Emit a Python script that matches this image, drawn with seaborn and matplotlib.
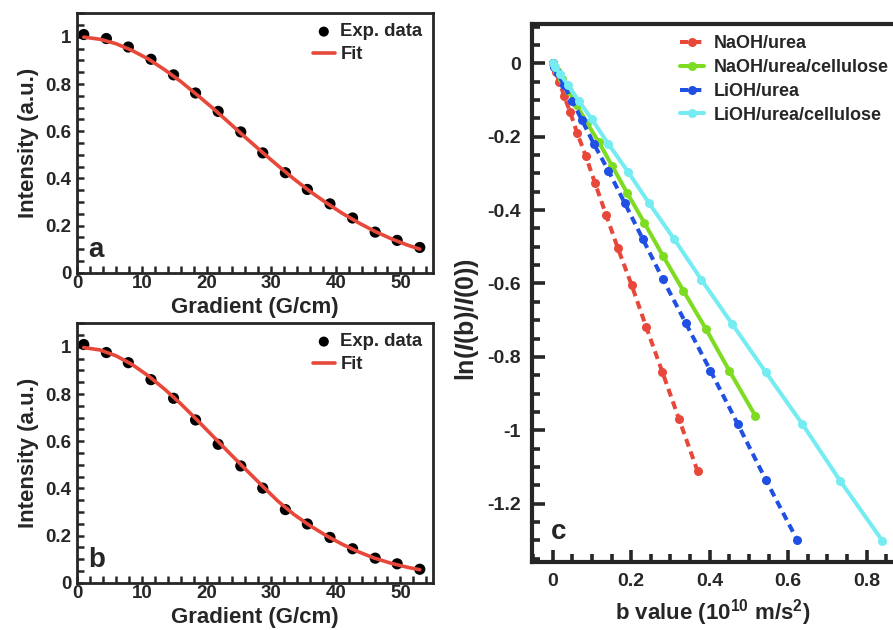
import numpy as np
import pandas as pd
import matplotlib
matplotlib.use("Agg")
import matplotlib.pyplot as plt
from matplotlib.ticker import MultipleLocator
import seaborn as sns

# ---------------- data ----------------
gradient = [1.0, 4.5, 7.9, 11.4, 14.9, 18.3, 21.8, 25.3, 28.7, 32.2, 35.6, 39.1, 42.6, 46.1, 49.5, 53.0]
intensity_a = [1.01, 0.993, 0.957, 0.905, 0.839, 0.762, 0.684, 0.597, 0.508, 0.424, 0.353, 0.292, 0.232, 0.172, 0.137, 0.107]
intensity_b = [1.01, 0.976, 0.933, 0.861, 0.782, 0.690, 0.587, 0.495, 0.401, 0.310, 0.249, 0.192, 0.144, 0.104, 0.080, 0.057]

fit_gradient = [1, 3.5, 6, 8.5, 11, 13.5, 16, 18.5, 21, 23.5, 26, 28.5, 31, 33.5, 36, 38.5, 41, 43.5, 46, 48.5, 51, 53]
fit_a = [0.999, 0.990, 0.971, 0.942, 0.906, 0.861, 0.811, 0.755, 0.697, 0.636, 0.574, 0.514, 0.455, 0.398,
         0.345, 0.297, 0.252, 0.212, 0.176, 0.145, 0.118, 0.100]
fit_b = [0.997, 0.987, 0.962, 0.925, 0.877, 0.821, 0.759, 0.691, 0.621, 0.551, 0.482, 0.414, 0.347, 0.290,
         0.242, 0.200, 0.163, 0.131, 0.104, 0.083, 0.066, 0.055]

b_naoh_urea = [0.0001, 0.0027, 0.0082, 0.017, 0.029, 0.044, 0.062, 0.084, 0.108, 0.136, 0.166, 0.201, 0.238, 0.279, 0.322, 0.369]
ln_naoh_urea = [0.0, -0.008, -0.025, -0.051, -0.089, -0.132, -0.189, -0.252, -0.327, -0.413, -0.504, -0.604, -0.718, -0.840, -0.970, -1.111]

b_naoh_cell = [0.0002, 0.0037, 0.0114, 0.0237, 0.041, 0.061, 0.087, 0.118, 0.151, 0.190, 0.233, 0.281, 0.333, 0.391, 0.450, 0.516]
ln_naoh_cell = [0.0, -0.007, -0.021, -0.044, -0.076, -0.114, -0.162, -0.216, -0.279, -0.354, -0.434, -0.525, -0.620, -0.725, -0.838, -0.960]

b_lioh_urea = [0.0002, 0.0045, 0.0137, 0.0287, 0.049, 0.074, 0.105, 0.142, 0.183, 0.230, 0.281, 0.339, 0.402, 0.472, 0.543, 0.623]
ln_lioh_urea = [0.0, -0.009, -0.028, -0.060, -0.102, -0.154, -0.220, -0.293, -0.380, -0.480, -0.589, -0.708, -0.838, -0.984, -1.135, -1.299]

b_lioh_cell = [0.0003, 0.006, 0.0185, 0.0386, 0.066, 0.100, 0.142, 0.192, 0.246, 0.310, 0.379, 0.457, 0.543, 0.636, 0.732, 0.840]
ln_lioh_cell = [0.0, -0.009, -0.029, -0.059, -0.102, -0.153, -0.220, -0.296, -0.382, -0.480, -0.590, -0.710, -0.842, -0.983, -1.137, -1.301]

series_names = ["NaOH/urea", "NaOH/urea/cellulose", "LiOH/urea", "LiOH/urea/cellulose"]

# ---------------- style ----------------
sns.set_style("ticks")
plt.rcParams["font.family"] = ["Liberation Sans", "DejaVu Sans"]
plt.rcParams["font.weight"] = "bold"
plt.rcParams["axes.labelweight"] = "bold"
plt.rcParams["mathtext.fontset"] = "custom"
plt.rcParams["mathtext.rm"] = "Liberation Sans:bold"
plt.rcParams["mathtext.bf"] = "Liberation Sans:bold"
plt.rcParams["mathtext.it"] = "Liberation Sans:bold:italic"

RED = "#e8483a"
GREEN = "#7ddc22"
BLUE = "#1f4fe3"
CYAN = "#74ecf2"

W, H = 893, 630
fig = plt.figure(figsize=(W / 100, H / 100), dpi=100)


def px_axes(left, top, right, bottom):
    return fig.add_axes([left / W, 1 - bottom / H, (right - left) / W, (bottom - top) / H])


ax_a = px_axes(77.3, 13.3, 432.7, 272.7)
ax_b = px_axes(77.3, 323.3, 432.7, 582.7)
ax_c = px_axes(531.7, 24.3, 893, 561.7)


def intensity_panel(ax, yvals, fit_vals, letter):
    sns.lineplot(x=fit_gradient, y=fit_vals, ax=ax, color=RED, linewidth=2.6,
                 sort=False, estimator=None, label="Fit", zorder=3)
    sns.scatterplot(x=gradient, y=yvals, ax=ax, color="black", s=65, edgecolor="none",
                    label="Exp. data", zorder=2)
    ax.set_xlim(0, 55)
    ax.set_ylim(0, 1.1)
    ax.xaxis.set_major_locator(MultipleLocator(10))
    ax.xaxis.set_minor_locator(MultipleLocator(2))
    ax.yaxis.set_minor_locator(MultipleLocator(0.05))
    ax.set_yticks([0, 0.2, 0.4, 0.6, 0.8, 1.0])
    ax.set_yticklabels(["0", "0.2", "0.4", "0.6", "0.8", "1"])
    ax.tick_params(which="both", direction="in", width=1.8, labelsize=13.5,
                   top=False, right=False)
    ax.tick_params(which="major", length=5)
    ax.tick_params(which="minor", length=5)
    ax.tick_params(axis="x", pad=2)
    ax.tick_params(axis="y", pad=4)
    for s in ax.spines.values():
        s.set_linewidth(2.0)
        s.set_visible(True)
    ax.set_xlabel("Gradient (G/cm)", fontsize=16, labelpad=3)
    ax.set_ylabel("Intensity (a.u.)", fontsize=16, labelpad=5)
    h, l = ax.get_legend_handles_labels()
    order = [l.index("Exp. data"), l.index("Fit")]
    ax.legend([h[i] for i in order], [l[i] for i in order], loc="upper right",
              frameon=False, fontsize=13.3, handlelength=1.2, handletextpad=0.3,
              labelspacing=0.3, borderaxespad=0.35, borderpad=0.2, markerscale=0.9)
    ax.text(0.03, 0.06, letter, transform=ax.transAxes, fontsize=20, fontweight="bold")


intensity_panel(ax_a, intensity_a, fit_a, "a")
intensity_panel(ax_b, intensity_b, fit_b, "b")

# ---------------- panel c ----------------
dash = (0, (2.0, 1.3))
specs = [
    (b_naoh_urea, ln_naoh_urea, RED, dash, series_names[0]),
    (b_naoh_cell, ln_naoh_cell, GREEN, "-", series_names[1]),
    (b_lioh_urea, ln_lioh_urea, BLUE, dash, series_names[2]),
    (b_lioh_cell, ln_lioh_cell, CYAN, "-", series_names[3]),
]
for bx, ly, col, ls, name in specs:
    sns.lineplot(x=bx, y=ly, ax=ax_c, color=col, linestyle=ls, linewidth=2.9,
                 marker="o", markersize=6.5, markeredgewidth=0, sort=False,
                 estimator=None, label=name)

ax_c.set_xlim(-0.0535, 0.867)
ax_c.set_ylim(-1.358, 0.106)
ax_c.xaxis.set_minor_locator(MultipleLocator(0.05))
ax_c.yaxis.set_minor_locator(MultipleLocator(0.05))
ax_c.set_xticks([0, 0.2, 0.4, 0.6, 0.8])
ax_c.set_xticklabels(["0", "0.2", "0.4", "0.6", "0.8"])
ax_c.set_yticks([0, -0.2, -0.4, -0.6, -0.8, -1.0, -1.2])
ax_c.set_yticklabels(["0", "-0.2", "-0.4", "-0.6", "-0.8", "-1", "-1.2"])
ax_c.tick_params(which="both", direction="in", width=2.6, labelsize=14, top=False, right=False)
ax_c.tick_params(which="major", length=9)
ax_c.tick_params(which="minor", length=6)
ax_c.tick_params(axis="x", pad=8)
ax_c.tick_params(axis="y", pad=8)
for name, s in ax_c.spines.items():
    s.set_linewidth(3.0)
ax_c.spines["right"].set_visible(False)
ax_c.spines["top"].set_visible(True)
ax_c.set_xlabel(r"b value (10$^{10}$ m/s$^{2}$)", fontsize=16, labelpad=5)
ax_c.set_ylabel(r"ln($I$(b)/$I$(0))", fontsize=18, labelpad=3)
ax_c.yaxis.set_label_coords(-0.14, 0.45)
ax_c.legend(loc="upper left", bbox_to_anchor=(0.38, 1.0), frameon=False, fontsize=13,
            handlelength=1.35, handletextpad=0.55, labelspacing=0.38, borderpad=0.1)
ax_c.text(0.053, 0.042, "c", transform=ax_c.transAxes, fontsize=20, fontweight="bold")

fig.savefig("out.png", dpi=100)
